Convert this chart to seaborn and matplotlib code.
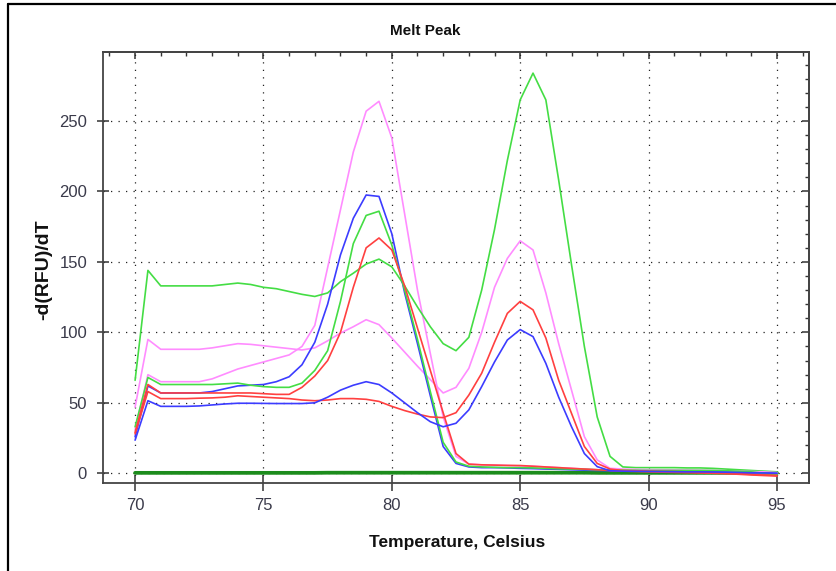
import matplotlib
matplotlib.use("Agg")
import matplotlib.pyplot as plt
from matplotlib.lines import Line2D
from matplotlib.ticker import MultipleLocator, NullFormatter
import pandas as pd
import seaborn as sns

# Melt-curve derivative data, one reading every 0.5 °C
temperature = [70.0, 70.5, 71.0, 71.5, 72.0, 72.5, 73.0, 73.5, 74.0, 74.5,
               75.0, 75.5, 76.0, 76.5, 77.0, 77.5, 78.0, 78.5, 79.0, 79.5,
               80.0, 80.5, 81.0, 81.5, 82.0, 82.5, 83.0, 83.5, 84.0, 84.5,
               85.0, 85.5, 86.0, 86.5, 87.0, 87.5, 88.0, 88.5, 89.0, 89.5,
               90.0, 90.5, 91.0, 91.5, 92.0, 92.5, 93.0, 93.5, 94.0, 94.5,
               95.0]

# wells with two products (primer-dimer shoulder near 79 °C plus product at 85 °C)
green_a = [66, 144, 133, 133, 133, 133, 133, 134, 135, 134,
           132, 131, 129, 127, 125.5, 128, 136, 142, 148.5, 152,
           146.5, 133, 118, 104, 92, 87, 96.5, 130, 173, 222,
           265, 284, 265, 208, 148, 90, 40, 12, 4.5, 4,
           4, 4, 4, 3.8, 3.8, 3.5, 3, 2.5, 2, 1.5,
           1]
pink_a = [47, 95, 88, 88, 88, 88, 89, 90.5, 92, 91.5,
          90.5, 89.5, 88.5, 87.5, 89, 94, 99.5, 104, 109, 105.5,
          96, 86, 76, 66.5, 57, 61, 74.5, 100, 132, 152.5,
          165, 158.5, 128, 92, 59, 26, 9.5, 3.5, 3, 2.8,
          2.6, 2.5, 2.4, 2.3, 2.2, 2, 1.8, 1.5, 1.2, 1,
          0.5]
red_a = [28, 58, 53, 53, 53, 53.3, 53.5, 54, 55, 54.5,
         54, 53.5, 53, 52, 51.5, 52, 53, 53, 52.5, 51,
         47.5, 44.5, 42, 40, 39.5, 43, 55.5, 71, 93, 113.5,
         122, 116, 96, 66, 42.5, 19, 7, 3, 2, 1.8,
         1.5, 1.3, 1.2, 1, 0.8, 0.5, 0.2, -0.3, -0.8, -1.2,
         -1.5]
blue_a = [23.5, 51.5, 47.5, 47.5, 47.5, 47.8, 48.5, 49.2, 49.7, 49.7,
          49.6, 49.5, 49.5, 49.5, 50, 54, 59, 62.5, 65, 63,
          57, 50, 43, 36.6, 33, 35.5, 45, 61.5, 79, 94.6,
          102, 97, 78, 54, 33, 14, 4.7, 1.8, 1.5, 1.4,
          1.3, 1.2, 1.1, 1, 1, 0.9, 0.8, 0.6, 0.4, 0.2,
          0]

# wells with a single product near 79.5 °C
pink_b = [31, 70, 65, 65, 65, 65, 67, 70.5, 74, 76.5,
          79, 81.5, 84, 90, 105, 146, 187, 228, 257, 264,
          238, 184, 130, 85, 40, 12, 6.5, 6, 5.8, 5.5,
          5.2, 5, 4.5, 4, 3.5, 3, 2.5, 2.2, 2, 1.9,
          1.8, 1.7, 1.6, 1.5, 1.4, 1.2, 1, 0.8, 0.5, 0.2,
          0]
blue_b = [26, 62, 57, 57, 57, 57, 58, 60, 62, 62.5,
          63, 65, 68.5, 77, 93, 120, 155, 181, 197.5, 196.5,
          170, 128, 92, 55, 19, 7, 4.5, 4, 4, 3.8,
          3.5, 3.3, 3, 2.8, 2.5, 2.2, 2, 1.8, 1.6, 1.5,
          1.5, 1.4, 1.3, 1.2, 1.1, 1, 0.8, 0.6, 0.4, 0.2,
          0]
green_b = [33, 68, 63, 63, 63, 63, 63, 63.5, 64, 62.5,
           61.5, 61, 61, 64, 73, 87, 122, 163, 183, 186,
           162, 130, 95, 58, 22, 8, 5, 4.5, 4.2, 4,
           4, 3.8, 3.5, 3.2, 3, 2.8, 2.5, 2.3, 2.2, 2.1,
           2, 2, 2, 2, 2, 2, 1.8, 1.5, 1, 0,
           -1]
red_b = [29, 63, 57, 57, 57, 57, 57, 57, 57, 57,
         56.5, 56, 56, 61, 69, 80, 100, 132, 160, 167,
         158.5, 133, 103, 73, 43, 14, 6.5, 6, 5.8, 5.6,
         5.5, 5, 4.5, 4, 3.5, 3, 2.5, 2, 1.5, 1.3,
         1, 0.8, 0.6, 0.4, 0.2, 0, -0.3, -0.7, -1.2, -1.6,
         -2]

# no-template controls
ntc = [0.3, 0.3, 0.3, 0.3, 0.3, 0.3, 0.3, 0.3, 0.3, 0.3,
       0.3, 0.3, 0.3, 0.3, 0.3, 0.4, 0.4, 0.4, 0.4, 0.4,
       0.4, 0.4, 0.4, 0.4, 0.4, 0.4, 0.4, 0.4, 0.4, 0.4,
       0.4, 0.4, 0.4, 0.4, 0.4, 0.4, 0.3, 0.3, 0.3, 0.3,
       0.3, 0.3, 0.3, 0.3, 0.3, 0.3, 0.3, 0.3, 0.3, 0.3,
       0.3]

wells = {"A1": green_a, "A2": pink_a, "A3": red_a, "A4": blue_a,
         "B1": pink_b, "B2": blue_b, "B3": green_b, "B4": red_b}
palette = {"A1": "#44dd44", "A2": "#ff8cff", "A3": "#ff4040", "A4": "#3c3cff",
           "B1": "#ff8cff", "B2": "#3c3cff", "B3": "#44dd44", "B4": "#ff4040"}
draw_order = ["B1", "A1", "A2", "B2", "B3", "B4", "A3", "A4"]

curves = pd.DataFrame(
    [(w, t, v) for w, vals in wells.items() for t, v in zip(temperature, vals)],
    columns=["well", "temperature", "value"])
controls = pd.DataFrame({"temperature": temperature, "value": ntc})

sns.set_style("white")
plt.rcParams["font.family"] = ["Liberation Sans Narrow", "Liberation Sans", "DejaVu Sans"]

W, H = 836, 571
fig = plt.figure(figsize=(W / 100, H / 100), dpi=100)
ax = fig.add_axes([103 / W, 1 - 483 / H, 706 / W, 431 / H])

sns.lineplot(data=controls, x="temperature", y="value", color="#1c8c1c",
             linewidth=2.7, estimator=None, ax=ax)
sns.lineplot(data=curves, x="temperature", y="value", hue="well",
             hue_order=draw_order, palette=palette, linewidth=1.2,
             estimator=None, legend=False, ax=ax)

ax.set_xlim(68.75, 96.25)
ax.set_ylim(-6.9, 299)
ax.set_xlabel("")
ax.set_ylabel("")

ax.xaxis.set_major_locator(MultipleLocator(5))
ax.xaxis.set_minor_locator(MultipleLocator(1))
ax.yaxis.set_major_locator(MultipleLocator(50))
ax.yaxis.set_minor_locator(MultipleLocator(10))

tick_col = "#333333"
ax.tick_params(bottom=True, left=True, top=False, right=False)
ax.tick_params(axis="x", which="major", direction="inout", length=12, width=1.1,
               color=tick_col, pad=5, labelsize=12, labelcolor="#3a3a4a")
ax.tick_params(axis="x", which="minor", direction="inout", length=6, width=1.0,
               color=tick_col)
ax.tick_params(axis="y", which="major", direction="inout", length=9, width=1.1,
               color=tick_col, pad=7, labelsize=12, labelcolor="#3a3a4a")
ax.tick_params(axis="y", which="minor", direction="inout", length=5, width=1.0,
               color=tick_col)

for side in ("left", "right", "top", "bottom"):
    ax.spines[side].set_visible(True)
    ax.spines[side].set_color("#444444")
    ax.spines[side].set_linewidth(1.3)

ax.grid(True, which="major", color="#222222", linestyle=(0, (1, 5)), linewidth=0.9)

# inward ticks on the top and right edges
top = ax.secondary_xaxis("top")
top.xaxis.set_major_locator(MultipleLocator(5))
top.xaxis.set_minor_locator(MultipleLocator(1))
top.xaxis.set_major_formatter(NullFormatter())
top.tick_params(which="major", direction="in", length=5, width=1.1, color=tick_col)
top.tick_params(which="minor", direction="in", length=3, width=1.0, color=tick_col)
top.spines["top"].set_color("#444444")
top.spines["top"].set_linewidth(1.3)

right = ax.secondary_yaxis("right")
right.yaxis.set_major_locator(MultipleLocator(50))
right.yaxis.set_minor_locator(MultipleLocator(10))
right.yaxis.set_major_formatter(NullFormatter())
right.tick_params(which="major", direction="in", length=5, width=1.1, color=tick_col)
right.tick_params(which="minor", direction="in", length=3, width=1.0, color=tick_col)
right.spines["right"].set_color("#444444")
right.spines["right"].set_linewidth(1.3)

fig.text(425 / W, 1 - 31 / H, "Melt Peak", ha="center", va="center",
         fontsize=11, fontweight="bold", color="#111111")
fig.text(457 / W, 1 - 543 / H, "Temperature, Celsius", ha="center", va="center",
         fontsize=12.5, fontweight="bold", color="#111111")
fig.text(44 / W, 1 - 270 / H, "-d(RFU)/dT", ha="center", va="center", rotation=90,
         fontsize=14, fontweight="bold", color="#111111",
         family=["Liberation Sans", "DejaVu Sans"])

# outer frame of the panel
fig.add_artist(Line2D([8 / W, 8 / W], [0, 1 - 4 / H], transform=fig.transFigure,
                      color="black", linewidth=1.6))
fig.add_artist(Line2D([8 / W, 1], [1 - 4 / H, 1 - 4 / H], transform=fig.transFigure,
                      color="black", linewidth=1.6))

fig.savefig("out.png", dpi=100)
